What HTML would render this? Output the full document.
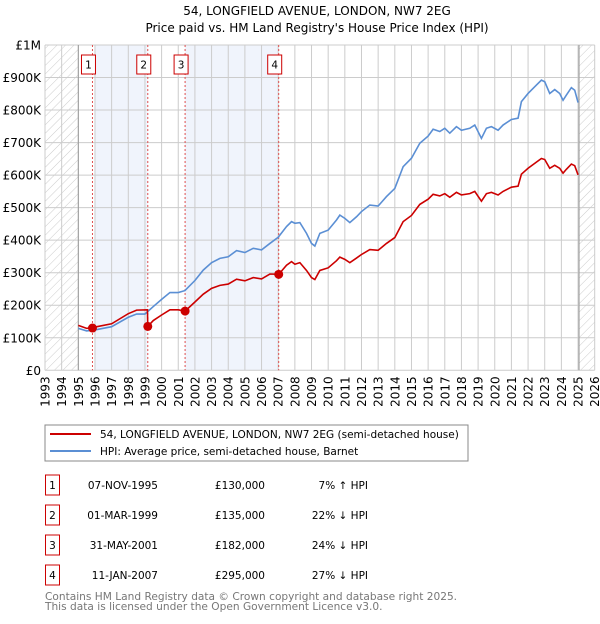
<!DOCTYPE html>
<html><head><meta charset="utf-8"><style>
body{margin:0;background:#fff;width:600px;height:620px;overflow:hidden;font-family:"DejaVu Sans","Liberation Sans",sans-serif;}
svg text{font-family:"DejaVu Sans","Liberation Sans",sans-serif;}
</style></head><body>
<svg id="chart" width="600" height="620" xmlns="http://www.w3.org/2000/svg">
<defs><pattern id="hatch" width="6" height="6" patternUnits="userSpaceOnUse" patternTransform="rotate(45)"><line x1="0" y1="0" x2="0" y2="6" stroke="#ccc" stroke-width="1"/></pattern></defs>
<text x="317" y="15" text-anchor="middle" font-size="12">54, LONGFIELD AVENUE, LONDON, NW7 2EG</text>
<text x="317" y="32" text-anchor="middle" font-size="12">Price paid vs. HM Land Registry's House Price Index (HPI)</text>
<g id="plot"></g>
<g>
<rect x="45" y="425" width="423" height="36" fill="#fff" stroke="#888"/>
<line x1="50" y1="434" x2="91" y2="434" stroke="#cc0000" stroke-width="2"/>
<text x="100" y="438" font-size="10.5">54, LONGFIELD AVENUE, LONDON, NW7 2EG (semi-detached house)</text>
<line x1="50" y1="451" x2="91" y2="451" stroke="#5b8fd4" stroke-width="2"/>
<text x="100" y="455" font-size="10.5">HPI: Average price, semi-detached house, Barnet</text>
</g>
<g id="table" font-size="10.5"></g>
<text x="45" y="600" font-size="10.6" fill="#777">Contains HM Land Registry data © Crown copyright and database right 2025.</text>
<text x="45" y="610" font-size="10.6" fill="#777">This data is licensed under the Open Government Licence v3.0.</text>
</svg>
<script>
const yTicks=[0,100000,200000,300000,400000,500000,600000,700000,800000,900000,1000000];
const yTickLabels=["£0","£100K","£200K","£300K","£400K","£500K","£600K","£700K","£800K","£900K","£1M"];
const xYears=[1993,1994,1995,1996,1997,1998,1999,2000,2001,2002,2003,2004,2005,2006,2007,2008,2009,2010,2011,2012,2013,2014,2015,2016,2017,2018,2019,2020,2021,2022,2023,2024,2025,2026];
const hpiDates=[1995.0,1995.5,1996,1997,1998,1998.5,1999.0,1999.5,2000,2000.5,2001,2001.4,2002,2002.5,2003,2003.5,2004,2004.5,2005,2005.5,2006,2006.5,2007,2007.5,2007.8,2008.0,2008.3,2008.7,2009.0,2009.2,2009.5,2010.0,2010.5,2010.7,2011,2011.3,2011.7,2012,2012.5,2013,2013.5,2014,2014.5,2015,2015.5,2016,2016.3,2016.7,2017,2017.3,2017.7,2018,2018.5,2018.8,2019.2,2019.5,2019.8,2020.2,2020.5,2021,2021.4,2021.6,2022,2022.5,2022.8,2023,2023.3,2023.6,2023.9,2024.1,2024.3,2024.6,2024.8,2025.0];
const hpiValues=[129,121,124,134,163,173,173,196,218,239,239,245,276,308,331,344,349,368,362,375,370,390,409,442,457,452,454,421,390,382,421,431,462,477,467,454,472,488,508,505,534,559,626,652,698,720,741,734,744,729,749,738,744,754,713,744,749,738,754,771,775,826,851,877,892,887,851,863,851,830,846,869,861,823];
const priceDates=[1995.0,1995.5,1995.85,1996,1997,1998,1998.5,1999.15,1999.17,1999.5,2000,2000.5,2001,2001.41,2002,2002.5,2003,2003.5,2004,2004.5,2005,2005.5,2006,2006.5,2007.03,2007.5,2007.8,2008,2008.3,2008.7,2009,2009.2,2009.5,2010,2010.5,2010.7,2011,2011.3,2011.7,2012,2012.5,2013,2013.5,2014,2014.5,2015,2015.5,2016,2016.3,2016.7,2017,2017.3,2017.7,2018,2018.5,2018.8,2019.2,2019.5,2019.8,2020.2,2020.5,2021,2021.4,2021.6,2022,2022.5,2022.8,2023,2023.3,2023.6,2023.9,2024.1,2024.3,2024.6,2024.8,2025.0];
const priceValues=[138,129,130,133,143,174,185,186,135,153,170,186,186,182,210,234,252,261,265,280,275,285,281,296,295,323,334,326,331,307,285,279,307,315,337,348,341,331,345,356,371,369,390,408,457,476,510,526,541,536,543,532,547,539,543,550,520,543,547,539,550,563,566,603,621,640,651,648,621,630,621,606,618,634,629,601];
const saleLabels=["1","2","3","4"];
const saleDates=[1995.85,1999.17,2001.41,2007.03];
const salePrices=[130000,135000,182000,295000];
const saleDateText=["07-NOV-1995","01-MAR-1999","31-MAY-2001","11-JAN-2007"];
const salePriceText=["£130,000","£135,000","£182,000","£295,000"];
const saleHpiText=["7% ↑ HPI","22% ↓ HPI","24% ↓ HPI","27% ↓ HPI"];

const X0=45,X1=594.7,Y0=370.3,Y1=45;
const xs=y=>X0+(y-1993)/(2026-1993)*(X1-X0);
const ys=v=>Y0-v/1000000*(Y0-Y1);
const NS="http://www.w3.org/2000/svg";
const plot=document.getElementById('plot');
function mk(tag,attrs,parent){const e=document.createElementNS(NS,tag);for(const k in attrs)e.setAttribute(k,attrs[k]);(parent||plot).appendChild(e);return e;}

for(let i=0;i<saleDates.length;i+=2){
  const a=i===0?1996:saleDates[i];const b=saleDates[i+1];
  const r=mk('rect',{x:xs(a),y:Y1,width:xs(b)-xs(a),height:Y0-Y1,fill:'#f0f4fc'});
  
  
}
const h1=mk('rect',{x:xs(1993),y:Y1,width:xs(1995)-xs(1993),height:Y0-Y1,fill:'url(#hatch)'});


const h2=mk('rect',{x:xs(2025.06),y:Y1,width:xs(2026)-xs(2025.06),height:Y0-Y1,fill:'url(#hatch)'});


yTicks.forEach((t,i)=>{
  const l=mk('line',{x1:X0,x2:X1,y1:ys(t),y2:ys(t),stroke:'#ccc','stroke-width':1});
  
  
  const tx=mk('text',{x:X0-4,y:ys(t)+4.5,'text-anchor':'end','font-size':12});
  tx.textContent=yTickLabels[i];
  
  
});
xYears.forEach(yr=>{
  const l=mk('line',{x1:xs(yr),x2:xs(yr),y1:Y1,y2:Y0,stroke:'#ccc','stroke-width':1});
  
  
  const tx=mk('text',{x:0,y:0,'text-anchor':'end','font-size':12,transform:`translate(${xs(yr)+4.5},${Y0+6}) rotate(-90)`});
  tx.textContent=yr;
  
  
});
[1995,2025.06].forEach(yr=>{
  const l=mk('line',{x1:xs(yr),x2:xs(yr),y1:Y1,y2:Y0,stroke:'#999','stroke-width':1});
  
  
});
saleDates.forEach((d,i)=>{
  const l=mk('line',{x1:xs(d),x2:xs(d),y1:Y1,y2:Y0,stroke:'#e05050','stroke-width':1,'stroke-dasharray':'2,2'});
  
  
  const bx=xs(d)-7-4;
  const r=mk('rect',{x:bx,y:55,width:14,height:19,fill:'#fff',stroke:'#cc0000'});
  
  
  const t=mk('text',{x:bx+7,y:68.5,'text-anchor':'middle','font-size':10.5});
  t.textContent=saleLabels[i];
  
  
});
const hp=mk('polyline',{points:hpiDates.map((d,i)=>xs(d)+','+ys(hpiValues[i]*1000)).join(' '),fill:'none',stroke:'#5b8fd4','stroke-width':1.6});


const pp=mk('polyline',{points:priceDates.map((d,i)=>xs(d)+','+ys(priceValues[i]*1000)).join(' '),fill:'none',stroke:'#cc0000','stroke-width':1.6});


saleDates.forEach((d,i)=>{
  const c=mk('circle',{cx:xs(d),cy:ys(salePrices[i]),r:4.5,fill:'#cc0000'});
  
  
});
const tb=document.getElementById('table');
saleLabels.forEach((s,i)=>{
  const y=485+i*30;
  const r=mk('rect',{x:45.5,y:y-10,width:14,height:20,fill:'#fff',stroke:'#cc0000'},tb);
  
  
  const vals=[[s,52.5,'middle'],[saleDateText[i],158,'end'],[salePriceText[i],265,'end'],[saleHpiText[i],368,'end']];
  vals.forEach(v=>{const t=mk('text',{x:v[1],y:y+4,'text-anchor':v[2]},tb);t.textContent=v[0];
    
    });
});
</script>
</body></html>
